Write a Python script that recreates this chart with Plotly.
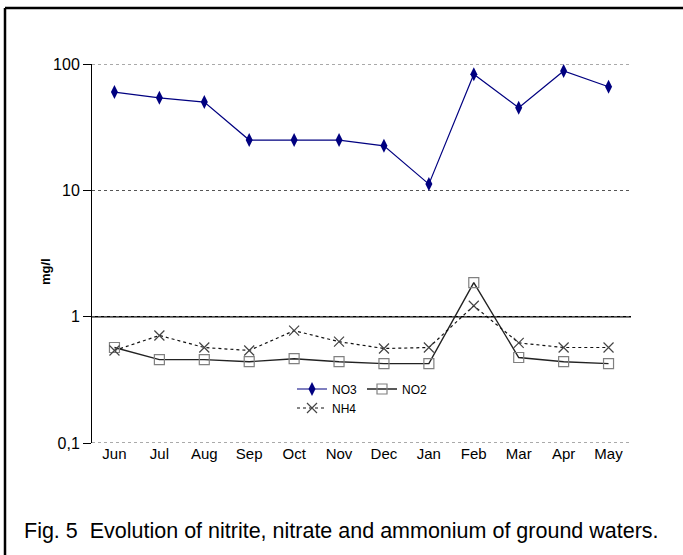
import plotly.graph_objects as go

months = ["Jun", "Jul", "Aug", "Sep", "Oct", "Nov", "Dec", "Jan", "Feb", "Mar", "Apr", "May"]
no3 = [60, 54, 50, 25, 25, 25, 22.5, 11.2, 83, 45, 88, 66]
no2 = [0.57, 0.457, 0.457, 0.44, 0.465, 0.44, 0.425, 0.425, 1.86, 0.475, 0.44, 0.425]
nh4 = [0.54, 0.71, 0.57, 0.54, 0.775, 0.634, 0.56, 0.57, 1.22, 0.62, 0.57, 0.57]
ytick_vals = [0.1, 1, 10, 100]
ytick_text = ["0,1", "1", "10", "100"]

FONT = "Liberation Sans, Arial, sans-serif"

W, H = 683, 555
L, T = 92, 64
PW, PH = 539, 379

fig = go.Figure()
fig.add_trace(go.Scatter(
    x=months, y=no3, name="NO3", mode="lines+markers",
    line=dict(color="#000080", width=1.2),
    marker=dict(symbol="diamond-tall", size=10, color="#000080"),
    legend="legend",
))
fig.add_trace(go.Scatter(
    x=months, y=no2, name="NO2", mode="lines+markers",
    line=dict(color="#222222", width=1.4),
    marker=dict(symbol="square-open", size=10, color="#808080", line=dict(width=1.2)),
    legend="legend",
))
fig.add_trace(go.Scatter(
    x=months, y=nh4, name="NH4", mode="lines+markers",
    line=dict(color="#111111", width=1.2, dash="3px,3px"),
    marker=dict(symbol="x-thin-open", size=10, color="#444444", line=dict(width=1.2, color="#444444")),
    legend="legend2",
))

bx0 = (5 - L) / PW
by1 = 1 + (T - 8) / PH

grid_edges = [
    dict(type="line", xref="paper", yref="y", x0=0, x1=1, y0=v, y1=v,
         line=dict(color="#555555", width=1, dash="dot"), layer="below")
    for v in (ytick_vals[0], ytick_vals[-1])
]

fig.update_layout(
    width=W, height=H,
    margin=dict(l=L, r=W - L - PW, t=T, b=H - T - PH),
    paper_bgcolor="white", plot_bgcolor="white",
    font=dict(family=FONT, size=12, color="black"),
    showlegend=True,
    legend=dict(orientation="h", x=(292 - L) / PW, y=1 - (389 - T) / PH,
                xanchor="left", yanchor="middle",
                font=dict(size=12), bgcolor="rgba(0,0,0,0)",
                entrywidth=25, itemwidth=30),
    legend2=dict(orientation="h", x=(292 - L) / PW, y=1 - (408 - T) / PH,
                 xanchor="left", yanchor="middle",
                 font=dict(size=12), bgcolor="rgba(0,0,0,0)", itemwidth=30),
    xaxis=dict(
        type="category", showgrid=False, showline=False, ticks="",
        tickfont=dict(size=15), range=[-0.5, 11.5], fixedrange=True,
    ),
    yaxis=dict(
        type="log", range=[-1, 2], tickvals=ytick_vals, ticktext=ytick_text,
        showgrid=True, gridcolor="#555555", griddash="dot", gridwidth=1,
        showline=True, linecolor="black", linewidth=1,
        ticks="outside", ticklen=8, tickcolor="black",
        tickfont=dict(size=16),
    ),
    shapes=grid_edges + [
        dict(type="line", xref="paper", yref="y", x0=0, x1=1, y0=1, y1=1,
             line=dict(color="black", width=1.5), layer="below"),
        dict(type="line", xref="paper", yref="paper",
             x0=bx0, x1=1.3, y0=by1, y1=by1,
             line=dict(color="black", width=2.5)),
        dict(type="line", xref="paper", yref="paper",
             x0=bx0, x1=bx0, y0=-0.6, y1=by1,
             line=dict(color="black", width=2.5)),
    ],
    annotations=[
        dict(text="<b>mg/l</b>", textangle=-90,
             xref="paper", yref="paper", x=(45 - L) / PW, y=1 - (272 - T) / PH,
             xanchor="center", yanchor="middle", showarrow=False,
             font=dict(size=13, family=FONT)),
        dict(text="Fig. 5  Evolution of nitrite, nitrate and ammonium of ground waters.",
             xref="paper", yref="paper", x=(22 - L) / PW, y=-(531 - (T + PH)) / PH,
             xanchor="left", yanchor="middle", showarrow=False,
             font=dict(size=21.5, family=FONT)),
    ],
)

fig.write_html("out.html", config={"displayModeBar": False},
               post_script="document.body.style.margin='0';")
